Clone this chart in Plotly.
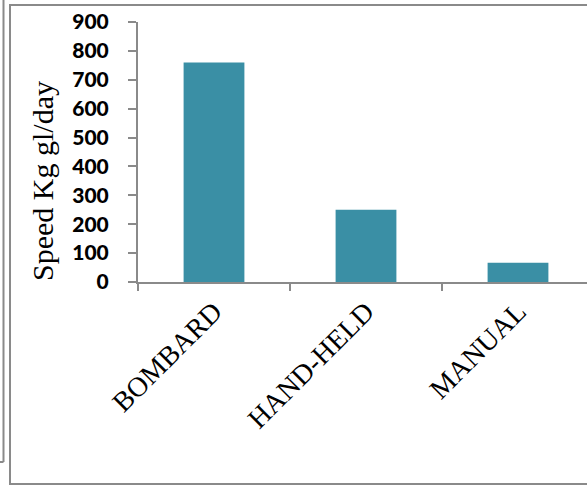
import plotly.graph_objects as go

categories = ["BOMBARD", "HAND-HELD", "MANUAL"]
values = [760, 250, 67]
y_ticks = [0, 100, 200, 300, 400, 500, 600, 700, 800, 900]
y_title = "Speed Kg gl/day"

W, H = 587, 485
ML, MR, MT, MB = 138, 0, 22, 203
PW = W - ML - MR
PH = H - MT - MB

def px_x(px):
    return (px - ML) / PW

def px_y(py):
    return (H - MB - py) / PH

AX = "#8a8a8a"
fig = go.Figure(go.Bar(
    x=categories, y=values, width=0.40,
    marker=dict(color="#3a8fa5", line=dict(width=0)),
))

fig.update_layout(
    width=W, height=H,
    margin=dict(l=ML, r=MR, t=MT, b=MB),
    plot_bgcolor="white", paper_bgcolor="white",
    showlegend=False,
    xaxis=dict(
        range=[-0.5, -0.5 + PW / 152.0],
        showline=True, linecolor=AX, linewidth=2,
        ticks="outside", tickson="boundaries", ticklen=7, tickwidth=2, tickcolor=AX,
        tickangle=-45,
        tickfont=dict(family="Liberation Serif", size=28, color="black"),
        showgrid=False, zeroline=False, fixedrange=True,
    ),
    yaxis=dict(
        range=[0, 900], tickvals=y_ticks,
        showline=True, linecolor=AX, linewidth=2,
        ticks="outside", ticklen=8, tickwidth=2, tickcolor=AX,
        tickfont=dict(family="Lato", size=21, color="black", weight=900),
        ticklabelstandoff=15,
        showgrid=False, zeroline=False,
    ),
    annotations=[dict(
        text=y_title, textangle=-90, showarrow=False,
        xref="paper", yref="paper", x=px_x(42), y=px_y(181),
        xanchor="center", yanchor="middle",
        font=dict(family="Liberation Serif", size=30, color="black"),
    )],
    shapes=[
        dict(type="rect", xref="paper", yref="paper",
             x0=px_x(10), x1=px_x(600), y0=px_y(484), y1=px_y(5),
             line=dict(color=AX, width=2), layer="below"),
        dict(type="line", xref="paper", yref="paper",
             x0=px_x(3.5), x1=px_x(3.5), y0=px_y(-5), y1=px_y(462),
             line=dict(color=AX, width=2)),
        dict(type="line", xref="paper", yref="paper",
             x0=px_x(-5), x1=px_x(3.5), y0=px_y(462), y1=px_y(462),
             line=dict(color=AX, width=2)),
    ],
)

fig.write_html(
    "out.html",
    config={"displayModeBar": False},
    post_script="document.body.style.margin='0';document.body.style.overflow='hidden';",
)
